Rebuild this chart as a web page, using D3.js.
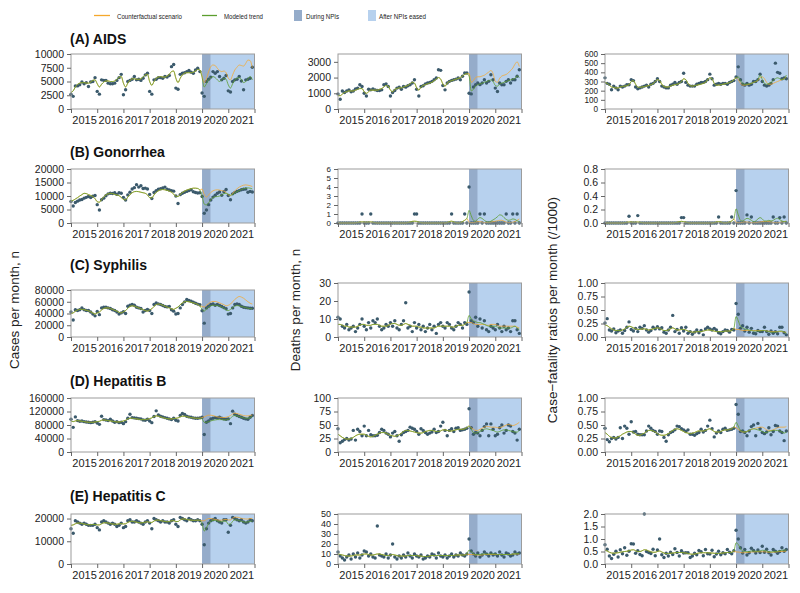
<!DOCTYPE html>
<html>
<head>
<meta charset="utf-8">
<script src="https://cdn.jsdelivr.net/npm/d3@7"></script>
<style>
  body { margin: 0; background: #fff; }
  svg { display: block; font-family: "Liberation Sans", Arial, sans-serif; }
  .axis path.domain { display: none; }
  .axis line { stroke: #666; }
  .axis text { fill: #222; }
</style>
</head>
<body>
<svg id="chart" width="800" height="593"></svg>
<script>
// Monthly notifiable disease series, Jan 2015 - Dec 2021

const years = [2015, 2016, 2017, 2018, 2019, 2020, 2021];
const diseases = ["(A) AIDS", "(B) Gonorrhea", "(C) Syphilis", "(D) Hepatitis B", "(E) Hepatitis C"];
const yTitles = ["Cases per month, n", "Deaths per month, n", "Case\u2212fatality ratios per month (/1000)"];
const legendLabels = ["Counterfactual scenario", "Modeled trend", "During NPIs", "After NPIs eased"];

// ---------- AIDS ----------
const aidsCasesObs = [
  2700, 2300, 4200, 4200, 4400, 4900, 4600, 4800, 4100, 4900, 5000, 5700,
  3200, 2700, 5300, 5200, 5200, 4700, 4600, 4600, 4700, 5200, 5700, 6300,
  2600, 3500, 5000, 5200, 5400, 5900, 5300, 5400, 5200, 5600, 6200, 6500,
  3200, 2700, 5300, 5400, 5700, 5700, 5600, 5900, 5800, 6100, 7700, 8100,
  3800, 3600, 6300, 6500, 6600, 6800, 7000, 6700, 6500, 7100, 7400, 6800,
  2900, 2300, 5000, 5400, 5800, 6800, 6500, 6800, 5900, 5300, 5600, 6100,
  3300, 3100, 5000, 5300, 5400, 5900, 5100, 3500, 5300, 5400, 5600, 7600];
const aidsCasesFit = [
  3000, 3300, 4000, 4500, 4700, 4800, 4800, 4700, 4700, 4900, 5200, 5300,
  4600, 4000, 4500, 4900, 5100, 5100, 5000, 5000, 5100, 5400, 5800, 5900,
  4700, 4000, 4700, 5200, 5500, 5500, 5400, 5400, 5500, 5800, 6200, 6300,
  5000, 4300, 5000, 5600, 5800, 5900, 5800, 5800, 6000, 6300, 6800, 6900,
  5600, 4800, 5600, 6200, 6500, 6600, 6600, 6600, 6700, 6900, 7200, 7100,
  5700, 4000, 4600, 5300, 5700, 5900, 5700, 5300, 5000, 5300, 5600, 5400,
  4400, 3800, 4600, 5300, 5600, 5700, 5400, 4800, 5000, 5500, 5900, 5300];
const aidsCasesCf = [
  6000, 4800, 5500, 6800, 7700, 8000, 7900, 7400, 7000, 6800, 6900, 6600,
  5600, 5300, 6200, 7100, 7600, 8000, 7900, 7800, 8300, 8900, 8800, 7500];

const aidsDeathsObs = [
  960, 620, 1150, 1050, 1150, 1220, 1090, 1150, 1280, 1330, 1540, 1430,
  1000, 830, 1260, 1220, 1280, 1220, 1180, 1180, 1220, 1540, 1600, 1430,
  830, 1050, 1180, 1330, 1390, 1260, 1430, 1390, 1480, 1540, 1650, 1860,
  1260, 830, 1430, 1480, 1600, 1650, 1690, 1760, 1860, 1970, 2500, 2460,
  1500, 1220, 1650, 1760, 1820, 1860, 1900, 1970, 1860, 2080, 2290, 2290,
  1000, 960, 1400, 1550, 1650, 1550, 1650, 1860, 1650, 1760, 2180, 1860,
  1330, 1110, 1650, 1540, 1540, 1760, 1860, 1650, 1860, 1860, 2080, 2500];
const aidsDeathsFit = [
  850, 850, 950, 1050, 1100, 1150, 1150, 1150, 1200, 1250, 1300, 1300,
  1100, 1000, 1100, 1200, 1200, 1200, 1200, 1250, 1300, 1400, 1500, 1450,
  1200, 1100, 1250, 1300, 1350, 1350, 1400, 1450, 1500, 1600, 1700, 1650,
  1350, 1200, 1400, 1500, 1550, 1600, 1650, 1700, 1800, 1900, 2000, 1900,
  1600, 1450, 1650, 1750, 1800, 1850, 1900, 1950, 2000, 2100, 2200, 2250,
  2100, 1150, 1250, 1450, 1550, 1600, 1650, 1700, 1750, 1800, 1850, 1750,
  1500, 1450, 1600, 1650, 1700, 1750, 1800, 1850, 1900, 1950, 2100, 2000];
const aidsDeathsCf = [
  2250, 1700, 1800, 2000, 2050, 2050, 2100, 2150, 2250, 2350, 2450, 2250,
  1750, 1700, 1950, 2100, 2150, 2200, 2300, 2450, 2600, 2850, 3000, 2700];

const aidsCfrObs = [
  340, 280, 270, 210, 250, 230, 210, 250, 240, 250, 265, 265,
  320, 310, 240, 220, 230, 240, 250, 260, 240, 270, 280, 300,
  330, 300, 250, 240, 230, 230, 260, 270, 290, 270, 290, 300,
  390, 290, 260, 250, 250, 250, 270, 280, 290, 290, 300, 320,
  380, 330, 260, 270, 280, 270, 280, 280, 270, 290, 300, 310,
  350, 460, 320, 270, 260, 280, 260, 270, 300, 300, 320, 380,
  300, 260, 250, 260, 280, 320, 500, 400, 390, 330, 340, 330];
const aidsCfrFit = [
  290, 280, 260, 240, 235, 230, 230, 240, 245, 250, 255, 265,
  300, 310, 270, 240, 235, 240, 245, 250, 255, 265, 275, 300,
  320, 310, 270, 245, 240, 240, 250, 260, 265, 270, 280, 300,
  330, 320, 280, 255, 250, 255, 260, 265, 270, 280, 290, 320,
  340, 330, 280, 260, 260, 265, 270, 275, 280, 290, 300, 320,
  340, 350, 310, 280, 270, 270, 275, 280, 290, 300, 320, 370,
  320, 280, 270, 280, 290, 310, 330, 340, 330, 320, 330, 370];
const aidsCfrCf = [
  340, 320, 280, 260, 260, 265, 270, 280, 290, 300, 310, 340,
  350, 330, 290, 270, 270, 280, 290, 300, 310, 320, 330, 350];

// ---------- Gonorrhea ----------
const gonoCasesObs = [
  8000, 6300, 7600, 8100, 8500, 8700, 9200, 9500, 9800, 9400, 9900, 10200,
  6800, 4800, 8600, 9200, 10100, 10800, 11000, 10900, 11200, 10600, 11200, 11000,
  9500, 8500, 10400, 11400, 12600, 13100, 14200, 13300, 13800, 12800, 12900, 12600,
  10600, 9100, 11300, 12000, 12500, 12700, 13000, 13300, 12500, 12200, 12000, 11800,
  10000, 7200, 10500, 11000, 11400, 11700, 12000, 12300, 11600, 11300, 11100, 11200,
  9800, 3600, 4800, 6800, 8500, 9600, 10300, 11000, 11500, 10300, 11600, 12400,
  10200, 8600, 10800, 11300, 11700, 12000, 12300, 12500, 12600, 11400, 11700, 11500];
const gonoCasesFit = [
  8200, 8400, 8900, 9400, 10000, 10500, 11000, 10900, 10500, 10200, 9800, 9000,
  7900, 7700, 8700, 9700, 10400, 10800, 11000, 10900, 10600, 10400, 10100, 9500,
  8700, 8600, 9600, 10500, 11200, 11600, 11700, 11600, 11400, 11200, 11000, 10400,
  9400, 9300, 10400, 11300, 11900, 12300, 12400, 12300, 12100, 11800, 11400, 10700,
  9900, 9800, 10600, 11300, 11800, 12200, 12500, 12700, 12900, 12900, 12800, 12200,
  10000, 7000, 6700, 7500, 8600, 9400, 9700, 9800, 10000, 10400, 10900, 11000,
  10600, 10300, 10600, 11100, 11600, 12000, 12400, 12700, 12900, 13000, 12900, 12600];
const gonoCasesCf = [
  12600, 10500, 9600, 10400, 11300, 11900, 12200, 12300, 12200, 12000, 11800, 11300,
  10500, 10100, 11000, 11900, 12700, 13300, 13700, 14000, 14100, 14000, 13800, 13500];

const gonoDeathsObs = [
  0, 0, 0, 0, 0, 0, 0, 0, 0, 0, 0, 1,
  0, 0, 0, 1, 0, 0, 0, 0, 0, 0, 0, 0,
  0, 0, 0, 0, 0, 0, 0, 0, 0, 0, 0, 1,
  1, 0, 0, 0, 0, 0, 0, 0, 0, 0, 0, 0,
  0, 0, 0, 0, 1, 0, 0, 0, 0, 0, 1, 0,
  4, 0, 0, 0, 0, 1, 0, 1, 0, 0, 0, 0,
  0, 0, 0, 0, 0, 1, 0, 0, 1, 0, 1, 0];
const gonoDeathsFit = [
  0, 0, 0, 0, 0, 0, 0, 0, 0.02, 0.05, 0.1, 0.12,
  0.1, 0.08, 0.1, 0.12, 0.08, 0.03, 0, 0, 0, 0, 0, 0,
  0, 0, 0, 0, 0, 0, 0, 0, 0.05, 0.1, 0.18, 0.2,
  0.18, 0.1, 0.03, 0, 0, 0, 0, 0, 0, 0, 0, 0,
  0, 0, 0.05, 0.15, 0.2, 0.12, 0.03, 0, 0.05, 0.15, 0.3, 0.5,
  1.4, 0.8, 0.3, 0.2, 0.45, 0.6, 0.5, 0.3, 0.15, 0.1, 0.2, 0.35,
  0.5, 0.7, 0.9, 0.85, 0.6, 0.4, 0.3, 0.35, 0.45, 0.4, 0.25, 0.15];
const gonoDeathsCf = [
  0.1, 0.05, 0.05, 0.1, 0.15, 0.15, 0.1, 0.05, 0.05, 0.05, 0.1, 0.15,
  0.2, 0.25, 0.3, 0.3, 0.2, 0.1, 0.05, 0.05, 0.1, 0.15, 0.3, 0.45];

const gonoCfrObs = [
  0, 0, 0, 0, 0, 0, 0, 0, 0, 0, 0, 0.1,
  0, 0, 0, 0.11, 0, 0, 0, 0, 0, 0, 0, 0,
  0, 0, 0, 0, 0, 0, 0, 0, 0, 0, 0, 0.08,
  0.08, 0, 0, 0, 0, 0, 0, 0, 0, 0, 0, 0,
  0, 0, 0, 0, 0.09, 0, 0, 0, 0, 0, 0.09, 0,
  0.48, 0, 0, 0, 0, 0.12, 0, 0.09, 0, 0, 0, 0,
  0, 0, 0, 0, 0, 0.09, 0, 0, 0.08, 0, 0.09, 0];
const gonoCfrFit = [
  0, 0, 0, 0, 0, 0, 0, 0, 0, 0.005, 0.01, 0.015,
  0.015, 0.01, 0.012, 0.015, 0.01, 0.005, 0, 0, 0, 0, 0, 0,
  0, 0, 0, 0, 0, 0, 0, 0, 0.005, 0.01, 0.02, 0.025,
  0.02, 0.012, 0.005, 0, 0, 0, 0, 0, 0, 0, 0, 0,
  0, 0, 0.005, 0.015, 0.02, 0.015, 0.005, 0, 0.005, 0.015, 0.03, 0.06,
  0.21, 0.12, 0.04, 0.03, 0.05, 0.07, 0.06, 0.04, 0.02, 0.03, 0.06, 0.08,
  0.06, 0.03, 0.03, 0.04, 0.03, 0.04, 0.06, 0.07, 0.05, 0.03, 0.02, 0.02];
const gonoCfrCf = [
  0.01, 0.005, 0.005, 0.01, 0.015, 0.015, 0.01, 0.005, 0.005, 0.005, 0.01, 0.015,
  0.02, 0.02, 0.025, 0.02, 0.015, 0.01, 0.005, 0.005, 0.01, 0.015, 0.02, 0.03];

// ---------- Syphilis ----------
const syphCasesObs = [
  42500, 29000, 46500, 45000, 46500, 49500, 46500, 45000, 45000, 42500, 39000, 36000,
  43500, 38000, 49500, 50600, 50600, 49500, 48400, 46500, 45000, 42500, 39000, 41000,
  43000, 40000, 52300, 54000, 55200, 54000, 50600, 49500, 48400, 42500, 45000, 47000,
  45000, 40000, 55200, 58000, 56300, 55200, 53500, 51800, 51200, 52000, 46500, 44000,
  39100, 40000, 49500, 55200, 59800, 63800, 62100, 61000, 59200, 57500, 56000, 55000,
  44800, 23600, 49500, 52300, 55200, 56300, 54000, 55200, 53500, 52000, 50000, 48000,
  39000, 40000, 49500, 55200, 56300, 55200, 52300, 50600, 50000, 49500, 49000, 49000];
const syphCasesFit = [
  40000, 41000, 44000, 46000, 47000, 47000, 46500, 45500, 44500, 43000, 41000, 39000,
  41000, 42500, 46000, 48500, 49500, 49500, 48500, 47000, 45500, 44000, 42000, 41000,
  43000, 45000, 49000, 52000, 53000, 52500, 51000, 49500, 48000, 46500, 45000, 44000,
  46000, 48000, 52000, 55000, 56000, 55500, 54000, 52500, 51000, 49500, 48000, 47000,
  49000, 51000, 55000, 58000, 60000, 60500, 60000, 59000, 58000, 57000, 55500, 53000,
  47000, 44000, 48000, 51000, 53000, 54000, 54000, 53500, 52500, 51000, 49000, 46000,
  45000, 47000, 50000, 52500, 53500, 53000, 52000, 51000, 50000, 49000, 48500, 48000];
const syphCasesCf = [
  52000, 51000, 54000, 57000, 59500, 60500, 60500, 59500, 58000, 56500, 55000, 53000,
  54000, 56000, 60000, 64000, 67000, 69000, 68000, 66000, 63000, 60000, 57500, 56000];

const syphDeathsObs = [
  11, 10, 6, 5, 7, 4, 5, 6, 3, 5, 7, 10,
  6, 4, 8, 5, 9, 8, 10, 6, 4, 5, 7, 6,
  8, 6, 9, 5, 4, 7, 9, 19, 5, 6, 3, 8,
  5, 7, 4, 6, 3, 5, 7, 4, 6, 2, 7, 8,
  6, 5, 8, 7, 5, 4, 6, 8, 7, 5, 8, 7,
  25, 9, 8, 11, 6, 10, 5, 9, 4, 3, 6, 5,
  4, 7, 5, 3, 6, 4, 5, 3, 9, 9, 4, 2];
const syphDeathsFit = [
  7, 7, 6.5, 6, 6, 5.5, 5.5, 5.5, 5.5, 6, 6.5, 7,
  7, 6.5, 6.5, 6.5, 7, 7, 7, 6.5, 6, 6, 6, 6.5,
  7, 7.5, 7.5, 7, 6.5, 6.5, 7, 7.5, 7, 6.5, 6, 6,
  6, 5.5, 5.5, 5, 5, 5, 5, 5, 5, 5.5, 6, 6,
  6, 6, 6, 6, 5.5, 5.5, 6, 6.5, 6.5, 6.5, 7, 8,
  12, 10, 9, 8.5, 8, 8, 7.5, 7, 6.5, 6, 6, 6,
  6, 5.5, 5, 5, 5, 5, 5, 5, 5.5, 6, 5, 4];
const syphDeathsCf = [
  8, 8, 7.5, 7, 7, 7, 7, 7, 6.5, 6.5, 7, 7,
  7, 6.5, 6, 6, 6, 6, 6, 6, 6, 6, 5.5, 5];

const syphCfrObs = [
  0.26, 0.34, 0.13, 0.11, 0.15, 0.08, 0.11, 0.13, 0.07, 0.12, 0.18, 0.28,
  0.14, 0.11, 0.16, 0.10, 0.18, 0.16, 0.21, 0.13, 0.09, 0.12, 0.18, 0.15,
  0.19, 0.15, 0.17, 0.09, 0.07, 0.13, 0.18, 0.40, 0.10, 0.14, 0.07, 0.17,
  0.11, 0.18, 0.07, 0.10, 0.05, 0.09, 0.13, 0.08, 0.12, 0.04, 0.15, 0.18,
  0.15, 0.13, 0.16, 0.13, 0.08, 0.06, 0.10, 0.13, 0.12, 0.09, 0.14, 0.13,
  0.62, 0.42, 0.16, 0.21, 0.11, 0.18, 0.09, 0.16, 0.07, 0.06, 0.12, 0.10,
  0.10, 0.18, 0.10, 0.05, 0.11, 0.07, 0.10, 0.06, 0.18, 0.18, 0.08, 0.04];
const syphCfrFit = [
  0.22, 0.21, 0.18, 0.15, 0.13, 0.12, 0.12, 0.12, 0.13, 0.15, 0.18, 0.20,
  0.19, 0.17, 0.15, 0.14, 0.14, 0.15, 0.15, 0.14, 0.13, 0.14, 0.15, 0.16,
  0.17, 0.16, 0.14, 0.12, 0.12, 0.13, 0.15, 0.17, 0.15, 0.13, 0.13, 0.14,
  0.14, 0.13, 0.11, 0.10, 0.09, 0.09, 0.10, 0.10, 0.10, 0.11, 0.12, 0.13,
  0.13, 0.12, 0.11, 0.10, 0.10, 0.10, 0.10, 0.11, 0.11, 0.11, 0.12, 0.16,
  0.38, 0.30, 0.20, 0.17, 0.15, 0.14, 0.13, 0.12, 0.11, 0.11, 0.11, 0.11,
  0.12, 0.12, 0.11, 0.10, 0.09, 0.09, 0.09, 0.10, 0.11, 0.11, 0.09, 0.07];
const syphCfrCf = [
  0.14, 0.14, 0.13, 0.12, 0.12, 0.12, 0.12, 0.12, 0.12, 0.12, 0.12, 0.12,
  0.12, 0.12, 0.11, 0.11, 0.10, 0.10, 0.10, 0.10, 0.10, 0.10, 0.09, 0.09];

// ---------- Hepatitis B ----------
const hbvCasesObs = [
  97000, 73000, 104000, 93000, 91000, 92000, 90000, 89000, 88000, 87000, 88000, 90000,
  86000, 82000, 106000, 96000, 95000, 93000, 97000, 92000, 88000, 90000, 87000, 88000,
  84000, 90000, 100000, 112000, 102000, 101000, 100000, 99000, 98000, 95000, 94000, 97000,
  92000, 87000, 105000, 122000, 110000, 106000, 104000, 102000, 100000, 98000, 96000, 100000,
  94000, 92000, 108000, 114000, 111000, 106000, 104000, 103000, 101000, 100000, 100000, 101000,
  103000, 52000, 88000, 92000, 98000, 100000, 102000, 101000, 103000, 100000, 98000, 97000,
  98000, 84000, 121000, 112000, 108000, 105000, 103000, 100000, 98000, 97000, 103000, 108000];
const hbvCasesFit = [
  92000, 90000, 92000, 93000, 92000, 91000, 90000, 89000, 88000, 88000, 88000, 89000,
  90000, 91000, 94000, 95000, 94000, 93000, 92000, 91000, 90000, 89000, 89000, 90000,
  92000, 94000, 98000, 100000, 100000, 99000, 98000, 97000, 96000, 96000, 96000, 97000,
  99000, 101000, 105000, 107000, 106000, 104000, 102000, 100000, 99000, 98000, 98000, 99000,
  100000, 101000, 104000, 106000, 106000, 105000, 103000, 102000, 101000, 100000, 100000, 100000,
  98000, 88000, 88000, 90000, 92000, 94000, 95000, 96000, 96000, 96000, 95000, 95000,
  97000, 100000, 106000, 108000, 107000, 105000, 103000, 101000, 100000, 100000, 102000, 105000];
const hbvCasesCf = [
  102000, 104000, 107000, 109000, 109000, 108000, 106000, 104000, 103000, 102000, 102000, 103000,
  105000, 108000, 113000, 115000, 114000, 112000, 110000, 108000, 107000, 107000, 108000, 110000];

const hbvDeathsObs = [
  43, 17, 20, 23, 25, 22, 24, 40, 22, 42, 38, 30,
  48, 30, 40, 32, 30, 30, 31, 36, 42, 40, 35, 33,
  28, 35, 38, 30, 20, 32, 36, 38, 40, 46, 44, 42,
  38, 33, 43, 40, 36, 33, 35, 37, 42, 36, 38, 48,
  55, 40, 30, 40, 43, 38, 44, 45, 40, 41, 42, 44,
  80, 45, 33, 36, 35, 30, 40, 47, 52, 30, 52, 42,
  30, 33, 45, 50, 35, 40, 50, 48, 38, 35, 22, 42];
const hbvDeathsFit = [
  33, 30, 27, 25, 24, 24, 25, 27, 30, 32, 33, 33,
  33, 31, 29, 28, 29, 31, 33, 35, 36, 36, 35, 33,
  31, 30, 29, 30, 32, 35, 38, 40, 40, 39, 38, 37,
  36, 35, 35, 36, 38, 39, 40, 40, 39, 38, 38, 39,
  41, 41, 40, 39, 39, 40, 41, 42, 42, 42, 43, 45,
  48, 42, 36, 35, 36, 38, 40, 42, 43, 42, 41, 40,
  38, 37, 38, 40, 41, 41, 40, 39, 38, 37, 37, 40];
const hbvDeathsCf = [
  48, 45, 42, 40, 40, 42, 44, 46, 47, 47, 46, 46,
  46, 45, 45, 46, 48, 50, 51, 50, 49, 50, 52, 55];

const hbvCfrObs = [
  0.44, 0.23, 0.19, 0.25, 0.27, 0.24, 0.27, 0.45, 0.25, 0.48, 0.44, 0.33,
  0.56, 0.37, 0.38, 0.33, 0.32, 0.32, 0.32, 0.39, 0.48, 0.44, 0.40, 0.38,
  0.33, 0.39, 0.38, 0.27, 0.20, 0.32, 0.36, 0.38, 0.41, 0.48, 0.47, 0.43,
  0.41, 0.38, 0.41, 0.33, 0.33, 0.31, 0.34, 0.36, 0.42, 0.37, 0.40, 0.48,
  0.59, 0.43, 0.28, 0.35, 0.39, 0.36, 0.42, 0.44, 0.40, 0.41, 0.42, 0.44,
  0.88, 0.70, 0.38, 0.39, 0.36, 0.30, 0.39, 0.47, 0.50, 0.30, 0.53, 0.43,
  0.36, 0.34, 0.37, 0.45, 0.32, 0.38, 0.49, 0.48, 0.39, 0.36, 0.21, 0.39];
const hbvCfrFit = [
  0.36, 0.33, 0.29, 0.27, 0.26, 0.26, 0.28, 0.30, 0.33, 0.35, 0.37, 0.38,
  0.38, 0.36, 0.33, 0.31, 0.31, 0.33, 0.35, 0.38, 0.40, 0.40, 0.39, 0.37,
  0.34, 0.32, 0.31, 0.31, 0.32, 0.34, 0.37, 0.40, 0.42, 0.43, 0.42, 0.40,
  0.38, 0.36, 0.35, 0.34, 0.35, 0.36, 0.38, 0.39, 0.39, 0.39, 0.40, 0.42,
  0.43, 0.41, 0.38, 0.37, 0.37, 0.38, 0.40, 0.41, 0.41, 0.42, 0.43, 0.46,
  0.55, 0.48, 0.40, 0.38, 0.37, 0.38, 0.40, 0.42, 0.43, 0.42, 0.41, 0.40,
  0.38, 0.36, 0.36, 0.38, 0.39, 0.40, 0.40, 0.40, 0.39, 0.37, 0.35, 0.37];
const hbvCfrCf = [
  0.45, 0.42, 0.39, 0.37, 0.37, 0.38, 0.40, 0.42, 0.43, 0.44, 0.45, 0.46,
  0.46, 0.44, 0.41, 0.40, 0.40, 0.41, 0.43, 0.45, 0.46, 0.46, 0.46, 0.47];

// ---------- Hepatitis C ----------
const hcvCasesObs = [
  15500, 13500, 19000, 18500, 18000, 17500, 18000, 17500, 17000, 17000, 17000, 17500,
  16000, 15000, 18500, 19000, 18500, 18000, 17500, 18000, 17500, 16500, 17000, 18000,
  16000, 16500, 19000, 19500, 18500, 18500, 19000, 18500, 18000, 17500, 18500, 19000,
  18000, 15500, 20000, 19500, 19000, 18500, 19000, 18500, 18500, 18000, 19000, 19500,
  17500, 16500, 20500, 20000, 19500, 19000, 20000, 19500, 19000, 19000, 19500, 19000,
  17500, 8500, 15500, 18000, 19000, 19500, 20000, 19000, 18500, 18000, 19500, 19500,
  14000, 17000, 20500, 20000, 19500, 19000, 19500, 18500, 18000, 18500, 19500, 19000];
const hcvCasesFit = [
  17000, 17200, 17700, 18000, 18000, 17800, 17600, 17400, 17300, 17300, 17400, 17400,
  17200, 17200, 17700, 18100, 18200, 18000, 17800, 17600, 17500, 17500, 17700, 17800,
  17600, 17700, 18300, 18700, 18800, 18600, 18400, 18200, 18100, 18200, 18400, 18600,
  18300, 18300, 18900, 19300, 19300, 19100, 18900, 18700, 18600, 18700, 19000, 19100,
  18700, 18700, 19400, 19800, 19800, 19600, 19400, 19300, 19200, 19200, 19300, 19200,
  17800, 14500, 16000, 17800, 18800, 19200, 19200, 18900, 18600, 18600, 18900, 18800,
  17500, 17600, 18800, 19400, 19400, 19100, 18800, 18500, 18400, 18500, 18800, 18900];
const hcvCasesCf = [
  19000, 19000, 19600, 20000, 20000, 19800, 19600, 19400, 19300, 19300, 19500, 19600,
  19400, 19400, 20100, 20600, 20600, 20400, 20100, 19900, 19800, 19800, 20000, 20100];

const hcvDeathsObs = [
  12, 8, 6, 4, 7, 9, 5, 10, 7, 11, 6, 9,
  13, 12, 8, 10, 7, 6, 38, 9, 8, 7, 10, 6,
  9, 20, 7, 5, 8, 6, 9, 7, 11, 8, 6, 10,
  8, 7, 9, 5, 6, 8, 7, 10, 9, 6, 11, 8,
  7, 9, 6, 8, 10, 7, 9, 8, 11, 9, 8, 10,
  25, 13, 10, 8, 11, 7, 9, 12, 10, 8, 11, 9,
  10, 8, 12, 9, 7, 11, 10, 8, 9, 12, 10, 11];
const hcvDeathsFit = [
  10, 9.5, 9, 8.5, 8, 8, 8, 8.5, 9, 9, 9, 9.5,
  10, 10, 9.5, 9, 9, 9.5, 10, 10, 9.5, 9, 8.5, 8.5,
  9, 9.5, 9, 8.5, 8, 8, 8, 8, 8.5, 8.5, 8.5, 8.5,
  8.5, 8, 8, 7.5, 7.5, 7.5, 8, 8.5, 8.5, 8.5, 8.5, 8.5,
  8.5, 8.5, 8.5, 8.5, 8.5, 8.5, 9, 9, 9, 9, 9, 10,
  14, 12, 10.5, 9.5, 9.5, 9.5, 10, 10, 10, 10, 10, 10,
  10, 9.5, 9.5, 9.5, 9.5, 9.5, 9.5, 9.5, 10, 10, 10.5, 10.5];
const hcvDeathsCf = [
  9.5, 9.5, 9.5, 9, 9, 9, 9, 9.5, 9.5, 9.5, 9.5, 9.5,
  9.5, 9.5, 9.5, 9.5, 9.5, 9.5, 9.5, 9.5, 10, 10, 10, 10];

const hcvCfrObs = [
  0.77, 0.59, 0.32, 0.22, 0.39, 0.51, 0.28, 0.57, 0.41, 0.65, 0.35, 0.51,
  0.81, 0.80, 0.43, 0.53, 0.38, 0.33, 2.00, 0.50, 0.46, 0.42, 0.59, 0.33,
  0.56, 1.00, 0.37, 0.26, 0.43, 0.32, 0.47, 0.38, 0.61, 0.46, 0.32, 0.53,
  0.44, 0.45, 0.45, 0.26, 0.32, 0.43, 0.37, 0.54, 0.49, 0.33, 0.58, 0.41,
  0.40, 0.55, 0.29, 0.40, 0.51, 0.37, 0.45, 0.41, 0.58, 0.47, 0.41, 0.53,
  1.35, 1.00, 0.65, 0.44, 0.58, 0.36, 0.45, 0.63, 0.54, 0.44, 0.56, 0.46,
  0.71, 0.47, 0.59, 0.45, 0.36, 0.58, 0.51, 0.43, 0.50, 0.65, 0.51, 0.58];
const hcvCfrFit = [
  0.55, 0.52, 0.47, 0.44, 0.43, 0.44, 0.45, 0.47, 0.49, 0.50, 0.51, 0.53,
  0.56, 0.57, 0.53, 0.50, 0.50, 0.53, 0.57, 0.56, 0.52, 0.49, 0.47, 0.47,
  0.50, 0.52, 0.48, 0.44, 0.42, 0.42, 0.43, 0.44, 0.45, 0.46, 0.46, 0.46,
  0.45, 0.44, 0.42, 0.40, 0.39, 0.40, 0.42, 0.44, 0.45, 0.45, 0.45, 0.45,
  0.44, 0.44, 0.43, 0.42, 0.42, 0.43, 0.44, 0.45, 0.46, 0.46, 0.47, 0.52,
  0.85, 0.78, 0.62, 0.52, 0.50, 0.49, 0.50, 0.52, 0.52, 0.51, 0.51, 0.52,
  0.55, 0.54, 0.52, 0.49, 0.48, 0.49, 0.50, 0.51, 0.53, 0.55, 0.55, 0.56];
const hcvCfrCf = [
  0.48, 0.48, 0.46, 0.45, 0.45, 0.46, 0.47, 0.48, 0.48, 0.49, 0.49, 0.49,
  0.49, 0.49, 0.48, 0.47, 0.47, 0.47, 0.48, 0.49, 0.50, 0.50, 0.51, 0.51];

// y axis ticks per panel (row = disease, col = measure)
const yTicks = [
  [[0, 2500, 5000, 7500, 10000], [0, 1000, 2000, 3000], [0, 100, 200, 300, 400, 500, 600]],
  [[0, 5000, 10000, 15000, 20000], [0, 1, 2, 3, 4, 5, 6], [0, 0.2, 0.4, 0.6, 0.8]],
  [[0, 20000, 40000, 60000, 80000], [0, 10, 20, 30], [0, 0.25, 0.5, 0.75, 1]],
  [[0, 40000, 80000, 120000, 160000], [0, 25, 50, 75, 100], [0, 0.25, 0.5, 0.75, 1]],
  [[0, 10000, 20000], [0, 10, 20, 30, 40, 50], [0, 0.5, 1, 1.5, 2]]
];
const yMax = [
  [10000, 3500, 600], [20000, 6, 0.8], [80000, 30, 1], [160000, 100, 1], [22000, 50, 2]
];
const yFormats = [
  ["d", "d", "d"], ["d", "d", ".1f"], ["d", "d", ".2f"], ["d", "d", ".2f"], ["d", "d", ".1f"]
];

const series = [
  [[aidsCasesObs, aidsCasesFit, aidsCasesCf], [aidsDeathsObs, aidsDeathsFit, aidsDeathsCf], [aidsCfrObs, aidsCfrFit, aidsCfrCf]],
  [[gonoCasesObs, gonoCasesFit, gonoCasesCf], [gonoDeathsObs, gonoDeathsFit, gonoDeathsCf], [gonoCfrObs, gonoCfrFit, gonoCfrCf]],
  [[syphCasesObs, syphCasesFit, syphCasesCf], [syphDeathsObs, syphDeathsFit, syphDeathsCf], [syphCfrObs, syphCfrFit, syphCfrCf]],
  [[hbvCasesObs, hbvCasesFit, hbvCasesCf], [hbvDeathsObs, hbvDeathsFit, hbvDeathsCf], [hbvCfrObs, hbvCfrFit, hbvCfrCf]],
  [[hcvCasesObs, hcvCasesFit, hcvCasesCf], [hcvDeathsObs, hcvDeathsFit, hcvDeathsCf], [hcvCfrObs, hcvCfrFit, hcvCfrCf]]
];

// ---------- layout ----------
const colors = {
  cf: "#f5a82c",
  fit: "#5c9e2e",
  during: "#95acca",
  after: "#b7d1ee",
  point: "#3b5a6c",
  box: "#9c9c9c"
};
const npiStart = 2020;
const npiEased = 2020.32;

const colLeft = [71, 338, 605];
const panelW = 183.5;
const rowTop = [54, 169, 283, 398, 514];
const rowBottom = [109, 223, 337, 452, 564];
const titleBase = [44, 157, 270, 385.5, 501];

const svg = d3.select("#chart");
const monthX = d3.range(84).map(i => 2015 + i / 12);

function drawPanel(r, c) {
  const [obs, fit, cf] = series[r][c];
  const left = colLeft[c];
  let top = rowTop[r];
  if (r === 2 && c === 0) top = 290;
  const bottom = rowBottom[r];

  const x = d3.scaleLinear().domain([2015, 2022]).range([left, left + panelW]);
  const y = d3.scaleLinear().domain([0, yMax[r][c]]).range([bottom, top]);

  const g = svg.append("g");

  // NPI shading
  g.append("rect")
    .attr("x", x(npiStart)).attr("y", top)
    .attr("width", x(2022) - x(npiStart)).attr("height", bottom - top)
    .attr("fill", colors.after);
  g.append("rect")
    .attr("x", x(npiStart)).attr("y", top)
    .attr("width", x(npiEased) - x(npiStart)).attr("height", bottom - top)
    .attr("fill", colors.during);

  // counterfactual follows the fitted trend until the NPIs start
  const cfFull = fit.slice(0, 60).concat(cf);
  const line = d3.line().x((d, i) => x(monthX[i])).y(d => y(d)).curve(d3.curveMonotoneX);

  g.selectAll("circle")
    .data(obs)
    .enter()
    .append("circle")
    .attr("cx", (d, i) => x(monthX[i]))
    .attr("cy", d => y(d))
    .attr("r", 1.7)
    .attr("fill", colors.point);

  g.append("path")
    .attr("d", line(cfFull))
    .attr("fill", "none")
    .attr("stroke", colors.cf)
    .attr("stroke-opacity", 0.75)
    .attr("stroke-width", 1);
  g.append("path")
    .attr("d", line(fit))
    .attr("fill", "none")
    .attr("stroke", colors.fit)
    .attr("stroke-opacity", 0.8)
    .attr("stroke-width", 1);

  // panel frame
  g.append("rect")
    .attr("x", left).attr("y", top)
    .attr("width", panelW).attr("height", bottom - top)
    .attr("fill", "none").attr("stroke", colors.box).attr("stroke-width", 1);

  // y axis; crowded tick sets get a smaller font
  const ticks = yTicks[r][c];
  const gap = (bottom - top) * (ticks[1] - ticks[0]) / yMax[r][c];
  const fs = Math.min(10.5, gap - 1);
  const yAxis = d3.axisLeft(y)
    .tickValues(ticks)
    .tickSize(4)
    .tickPadding(3)
    .tickFormat(d3.format(yFormats[r][c]));
  g.append("g")
    .attr("class", "axis")
    .attr("transform", `translate(${left},0)`)
    .call(yAxis)
    .call(s => s.selectAll("text").style("font-size", fs + "px"));

  // x axis: ticks at year boundaries, labels mid-year
  g.append("g")
    .attr("class", "axis")
    .attr("transform", `translate(0,${bottom})`)
    .call(d3.axisBottom(x).tickValues(d3.range(2015, 2023)).tickSize(4).tickFormat(""));
  g.append("g")
    .attr("class", "axis")
    .attr("transform", `translate(0,${bottom})`)
    .call(d3.axisBottom(x).tickValues(years.map(v => v + 0.5)).tickSize(0).tickPadding(7)
      .tickFormat(d => String(Math.floor(d))))
    .call(s => s.selectAll("line").remove())
    .call(s => s.selectAll("text").style("font-size", "11px"));
}

for (let r = 0; r < 5; r++) {
  for (let c = 0; c < 3; c++) drawPanel(r, c);
  svg.append("text")
    .attr("x", 70).attr("y", titleBase[r])
    .attr("font-size", "14px").attr("font-weight", "bold").attr("fill", "#111")
    .text(diseases[r]);
}

// y titles
const yTitleX = [19, 300, 557];
yTitles.forEach((t, i) => {
  svg.append("text")
    .attr("transform", `translate(${yTitleX[i]},310) rotate(-90)`)
    .attr("text-anchor", "middle")
    .attr("font-size", "13.5px").attr("fill", "#222")
    .text(t);
});

// legend
const legend = svg.append("g").attr("font-size", "8px");
const legendTextX = [117, 224, 306, 379];
const legendTextW = [65, 39, 33, 47];
legend.append("line").attr("x1", 94).attr("x2", 110).attr("y1", 15.5).attr("y2", 15.5)
  .attr("stroke", colors.cf).attr("stroke-width", 1.3);
legend.append("line").attr("x1", 202).attr("x2", 217).attr("y1", 15.5).attr("y2", 15.5)
  .attr("stroke", colors.fit).attr("stroke-width", 1.3);
legend.append("rect").attr("x", 294).attr("y", 10).attr("width", 8).attr("height", 11)
  .attr("fill", colors.during);
legend.append("rect").attr("x", 368).attr("y", 10).attr("width", 8).attr("height", 11)
  .attr("fill", colors.after);
legendLabels.forEach((t, i) => {
  legend.append("text")
    .attr("x", legendTextX[i]).attr("y", 18.5)
    .attr("fill", "#222")
    .attr("textLength", legendTextW[i]).attr("lengthAdjust", "spacingAndGlyphs")
    .text(t);
});
</script>
</body>
</html>
